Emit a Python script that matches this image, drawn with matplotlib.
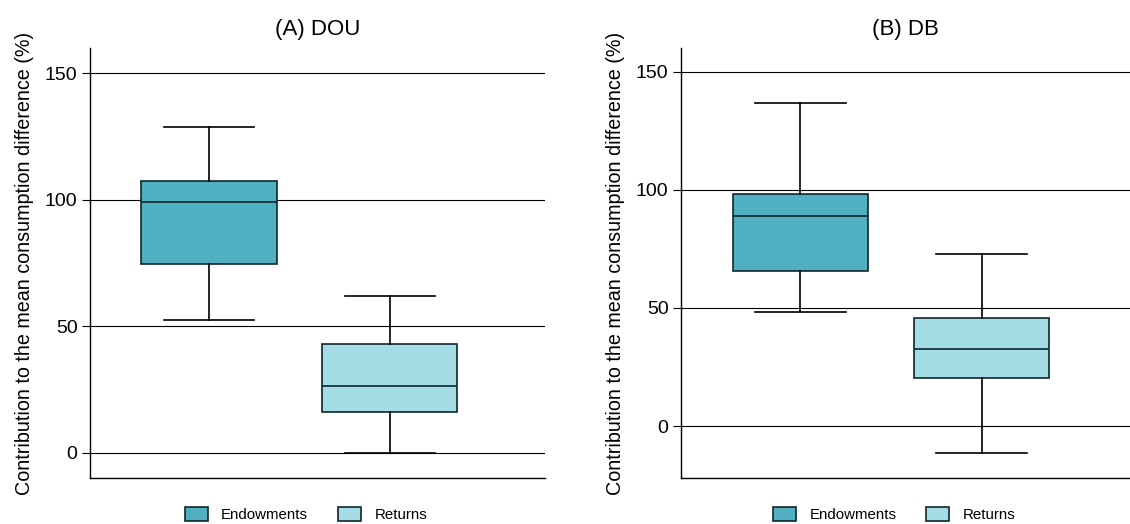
import numpy as np
import matplotlib
matplotlib.use("Agg")
from matplotlib import pyplot as plt
from matplotlib.patches import Patch

groups = ["Endowments", "Returns"]
colors = ["#50AFC1", "#A4DDE5"]

# whisker_low, q1, median, q3, whisker_high
dou_stats = [[52.4, 74.7, 99.2, 107.5, 128.6],
             [0.0, 16.1, 26.2, 42.8, 62.1]]
db_stats = [[48.4, 65.5, 88.9, 98.3, 136.7],
            [-11.3, 20.3, 32.6, 45.9, 72.9]]

titles = ["(A) DOU", "(B) DB"]
ylims = [(-10, 160), (-22, 160)]
yticks = [0, 50, 100, 150]
ylabel = "Contribution to the mean consumption difference (%)"

plt.rcParams['font.family'] = ['Liberation Sans', 'DejaVu Sans']

fig = plt.figure(figsize=(11.3, 5.24), dpi=100)
W, H = 1130, 524
ax_a = fig.add_axes([90 / W, 46 / H, 455 / W, 430 / H])
ax_b = fig.add_axes([681 / W, 46 / H, 449 / W, 430 / H])
xlims = [(1 - 0.66, 2 + 0.86), (1 - 0.66, 2 + 0.82)]

edge = "#10262A"
for ax, stats, title, ylim, xlim in zip([ax_a, ax_b], [dou_stats, db_stats],
                                        titles, ylims, xlims):
    bxp_stats = []
    for name, s in zip(groups, stats):
        bxp_stats.append({"label": name, "whislo": s[0], "q1": s[1],
                          "med": s[2], "q3": s[3], "whishi": s[4],
                          "fliers": []})
    for y in yticks:
        ax.axhline(y, color="black", lw=0.8, zorder=0)
    bp = ax.bxp(bxp_stats, positions=[1, 2], widths=0.75, patch_artist=True,
                showfliers=False,
                boxprops=dict(edgecolor=edge, linewidth=1.2),
                medianprops=dict(color=edge, linewidth=1.2),
                whiskerprops=dict(color="black", linewidth=1.2),
                capprops=dict(color="black", linewidth=1.2),
                capwidths=0.5)
    for patch, c in zip(bp["boxes"], colors):
        patch.set_facecolor(c)
    ax.set_xlim(*xlim)
    ax.set_ylim(*ylim)
    ax.set_yticks(yticks)
    ax.set_xticks([])
    ax.tick_params(axis="y", labelsize=14, length=6, width=0.8, pad=3)
    ax.spines["top"].set_visible(False)
    ax.spines["right"].set_visible(False)
    ax.spines["left"].set_linewidth(1.0)
    ax.spines["bottom"].set_linewidth(1.0)
    ax.set_title(title, fontsize=16, pad=9)
    ax.set_ylabel(ylabel, fontsize=14.2, labelpad=8)
    handles = [Patch(facecolor=c, edgecolor=edge, linewidth=1.2, label=g)
               for g, c in zip(groups, colors)]
    ax.legend(handles=handles, loc="upper center", bbox_to_anchor=(0.475, -0.035),
              ncol=2, frameon=False, fontsize=10.8, handlelength=1.5,
              handleheight=1.1, handletextpad=0.9, columnspacing=2.0)

fig.savefig("out.png", dpi=100)
